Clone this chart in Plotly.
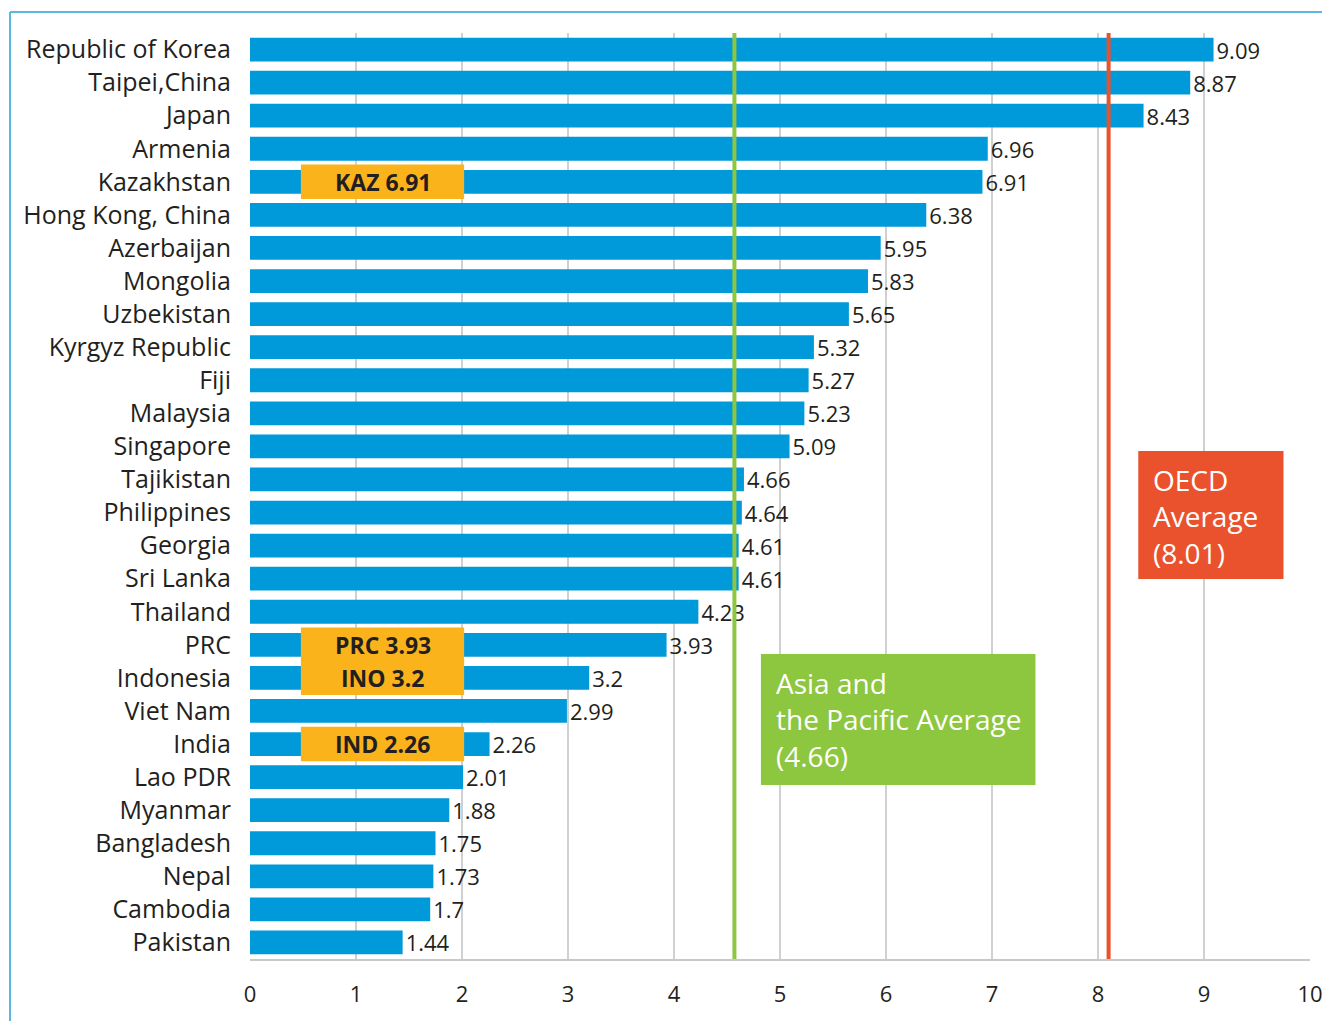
import plotly.graph_objects as go

countries = ["Republic of Korea", "Taipei,China", "Japan", "Armenia", "Kazakhstan",
             "Hong Kong, China", "Azerbaijan", "Mongolia", "Uzbekistan", "Kyrgyz Republic",
             "Fiji", "Malaysia", "Singapore", "Tajikistan", "Philippines", "Georgia",
             "Sri Lanka", "Thailand", "PRC", "Indonesia", "Viet Nam", "India", "Lao PDR",
             "Myanmar", "Bangladesh", "Nepal", "Cambodia", "Pakistan"]
values = [9.09, 8.87, 8.43, 6.96, 6.91, 6.38, 5.95, 5.83, 5.65, 5.32, 5.27, 5.23, 5.09,
          4.66, 4.64, 4.61, 4.61, 4.23, 3.93, 3.2, 2.99, 2.26, 2.01, 1.88, 1.75, 1.73,
          1.7, 1.44]
value_labels = ["9.09", "8.87", "8.43", "6.96", "6.91", "6.38", "5.95", "5.83", "5.65",
                "5.32", "5.27", "5.23", "5.09", "4.66", "4.64", "4.61", "4.61", "4.23",
                "3.93", "3.2", "2.99", "2.26", "2.01", "1.88", "1.75", "1.73", "1.7", "1.44"]
highlights = {"Kazakhstan": "KAZ 6.91", "PRC": "PRC 3.93", "Indonesia": "INO 3.2", "India": "IND 2.26"}
x_ticks = list(range(0, 11))

asia_line_pos = 4.57
oecd_line_pos = 8.1

FONT = "Open Sans"
BAR = "#009ADA"
GREEN = "#8DC63F"
RED = "#E9522C"
ORANGE = "#FBB31B"
TXT = "#231F20"

fig = go.Figure()
fig.add_trace(go.Bar(
    y=countries, x=values, orientation="h",
    marker=dict(color=BAR, line=dict(width=0)),
    text=value_labels, textposition="outside", cliponaxis=False, constraintext="none",
    textfont=dict(family=FONT, size=22, color=TXT),
    width=0.72, hoverinfo="skip",
))

shapes = []
annotations = []
# average lines
for xv, col in [(asia_line_pos, GREEN), (oecd_line_pos, RED)]:
    shapes.append(dict(type="line", xref="x", yref="paper", x0=xv, x1=xv, y0=0, y1=1,
                       line=dict(color=col, width=4), layer="above"))

# highlight boxes
for name, label in highlights.items():
    i = countries.index(name)
    shapes.append(dict(type="rect", xref="x", yref="y", x0=0.48, x1=2.02,
                       y0=i - 0.52, y1=i + 0.52, fillcolor=ORANGE, line=dict(width=0),
                       layer="above"))
    annotations.append(dict(x=1.25, y=i, xref="x", yref="y", text="<b>" + label + "</b>",
                            showarrow=False, font=dict(family=FONT, size=23, color=TXT)))

# legend-like boxes (positions given in reference pixel rows)
H = 926.0
def py(p):
    return (959 - p) / H

shapes.append(dict(type="rect", xref="x", yref="paper", x0=4.82, x1=7.41,
                   y0=py(785), y1=py(654), fillcolor=GREEN, line=dict(width=0), layer="above"))
annotations.append(dict(x=4.94, y=py(719), xref="x", yref="paper", xanchor="left", yanchor="middle",
                        align="left", showarrow=False,
                        text="Asia and<br>the Pacific Average<br>(4.66)",
                        font=dict(family=FONT, size=28, color="white")))
shapes.append(dict(type="rect", xref="x", yref="paper", x0=8.38, x1=9.75,
                   y0=py(579), y1=py(451), fillcolor=RED, line=dict(width=0), layer="above"))
annotations.append(dict(x=8.5, y=py(516), xref="x", yref="paper", xanchor="left", yanchor="middle",
                        align="left", showarrow=False,
                        text="OECD<br>Average<br>(8.01)",
                        font=dict(family=FONT, size=28, color="white")))

# frame lines (light blue, top and left)
px0 = (10 - 250) / 1060.0
shapes.append(dict(type="line", xref="paper", yref="paper", x0=px0, x1=1.05, y0=py(12), y1=py(12),
                   line=dict(color="#5BB8E4", width=2)))
shapes.append(dict(type="line", xref="paper", yref="paper", x0=px0, x1=px0, y0=py(12), y1=py(1030),
                   line=dict(color="#5BB8E4", width=2)))

fig.update_layout(
    width=1322, height=1013,
    margin=dict(l=242, r=20, t=25, b=62, autoexpand=False),
    paper_bgcolor="white", plot_bgcolor="white",
    showlegend=False, bargap=0.28,
    shapes=shapes, annotations=annotations,
    font=dict(family=FONT, color=TXT),
    xaxis=dict(range=[0, 10], tickvals=x_ticks, showgrid=True, gridcolor="#D0D0D0", gridwidth=1.5,
               zeroline=False, showline=True, linecolor="#C8C8C8", linewidth=1.5,
               tickfont=dict(family=FONT, size=22, color=TXT), ticks="", ticklabelstandoff=15,
               automargin=False),
    yaxis=dict(autorange="reversed", showgrid=False, zeroline=False, ticks="",
               tickfont=dict(family=FONT, size=25, color=TXT), ticklabelstandoff=18,
               automargin=False),
)

fig.write_html("out.html")
